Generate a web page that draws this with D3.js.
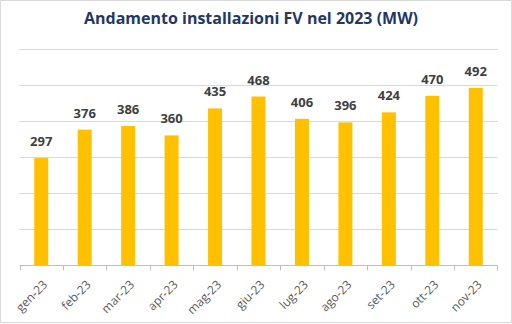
<!DOCTYPE html>
<html><head><meta charset="utf-8">
<script src="https://cdn.jsdelivr.net/npm/d3@7"></script>
<style>html,body{margin:0;padding:0;background:#fff;}svg{display:block;}</style>
</head><body>
<script>
const categories = ["gen-23","feb-23","mar-23","apr-23","mag-23","giu-23","lug-23","ago-23","set-23","ott-23","nov-23"];
const values = [297,376,386,360,435,468,406,396,424,470,492];
const yTicks = [0,100,200,300,400,500,600];
const title = "Andamento installazioni FV nel 2023 (MW)";

const W = 512, H = 324;
const m = {left: 19.5, right: 14.5, top: 49, bottom: 59};
const svg = d3.select("body").append("svg").attr("width", W).attr("height", H);
svg.append("rect").attr("x",0.5).attr("y",0.5).attr("width",W-1).attr("height",H-2)
  .attr("fill","#fff").attr("stroke","#d9d9d9");

const x = d3.scaleBand().domain(categories).range([m.left, W-m.right]);
const y = d3.scaleLinear().domain([0,600]).range([H-m.bottom, m.top]);

svg.append("g").selectAll("line").data(yTicks.slice(1)).join("line")
  .attr("x1", m.left).attr("x2", W-m.right)
  .attr("y1", d=>Math.round(y(d))+0.5).attr("y2", d=>Math.round(y(d))+0.5)
  .attr("stroke","#d9d9d9").attr("stroke-width",1);

const bw = 14;
svg.append("g").selectAll("rect").data(values).join("rect")
  .attr("x",(d,i)=>x(categories[i])+x.bandwidth()/2-bw/2)
  .attr("y",d=>y(d)).attr("width",bw).attr("height",d=>y(0)-y(d))
  .attr("fill","#FFC000");

const gx = svg.append("g").attr("transform",`translate(0,${Math.round(y(0))+0.5})`);
gx.append("line").attr("x1",m.left).attr("x2",W-m.right).attr("stroke","#bfbfbf");
const bounds = categories.map(c=>x(c)).concat([x(categories[categories.length-1])+x.bandwidth()]);
gx.selectAll("line.tk").data(bounds).join("line").attr("class","tk")
  .attr("x1",d=>Math.round(d)+0.5).attr("x2",d=>Math.round(d)+0.5).attr("y1",0).attr("y2",5)
  .attr("stroke","#bfbfbf");
gx.selectAll("text").data(categories).join("text")
  .attr("transform",d=>`translate(${x(d)+x.bandwidth()/2+1},${14}) rotate(-45)`)
  .attr("text-anchor","end").attr("dy","0.7em")
  .attr("font-family","Open Sans, Liberation Sans, sans-serif").attr("font-size",12)
  .attr("fill","#595959").text(d=>d);

svg.append("g").selectAll("text").data(values).join("text")
  .attr("x",(d,i)=>x(categories[i])+x.bandwidth()/2)
  .attr("y",d=>y(d)-12)
  .attr("text-anchor","middle")
  .attr("font-family","Open Sans, Liberation Sans, sans-serif").attr("font-weight","bold")
  .attr("font-size",13).attr("fill","#404040").text(d=>d);

svg.append("text").attr("x",251).attr("y",24).attr("text-anchor","middle")
  .attr("font-family","Open Sans, Liberation Sans, sans-serif").attr("font-weight","bold")
  .attr("font-size",16).attr("fill","#1F3864").text(title);
</script>
</body></html>
